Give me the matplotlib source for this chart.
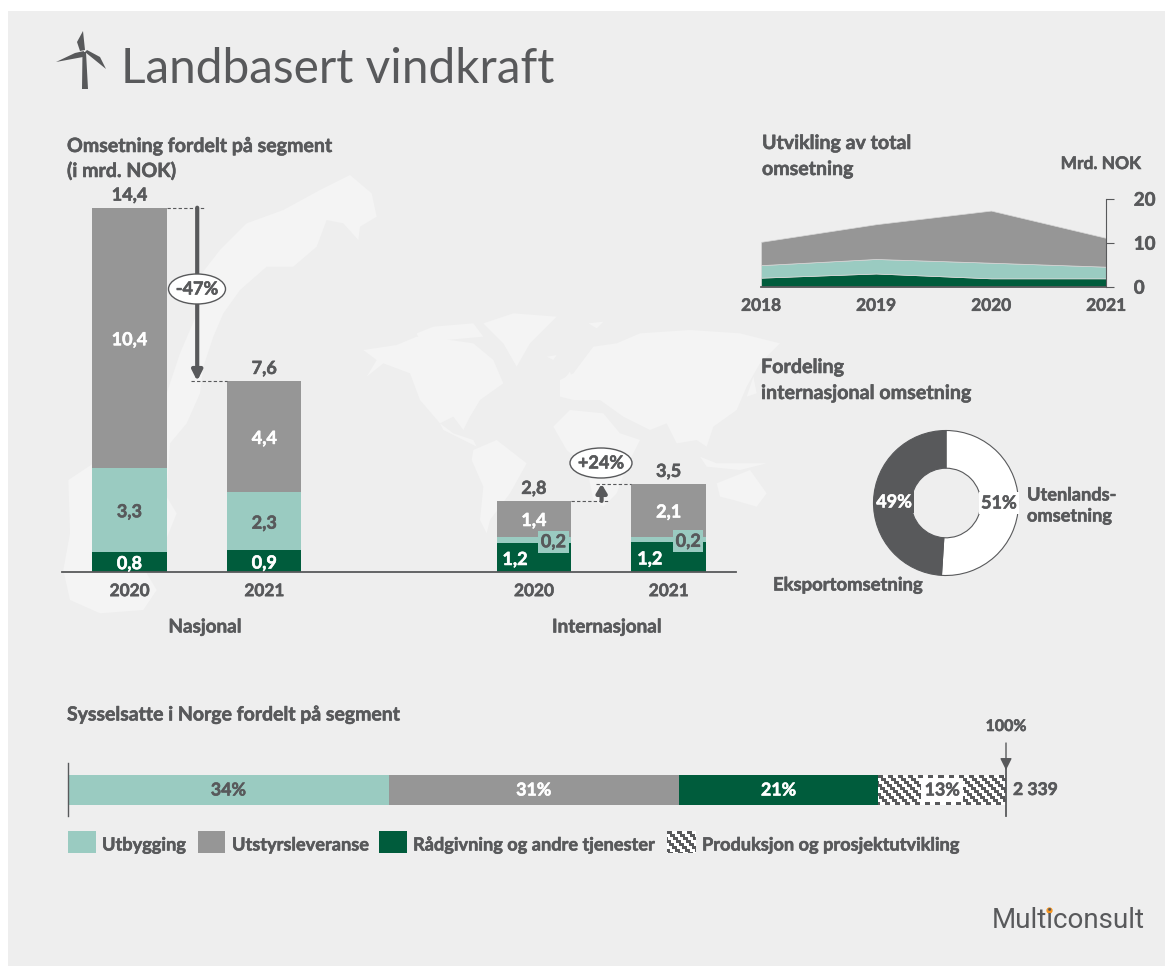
import matplotlib
matplotlib.use('Agg')
import matplotlib.pyplot as plt
import matplotlib.patheffects as pe
import numpy as np
from matplotlib.colors import ListedColormap
from matplotlib.patches import Rectangle, Ellipse, Polygon

W, H = 1165, 967
TEXT = '#58595B'
TEAL = '#9ACBC1'
GREY = '#969696'
GREEN = '#005C3C'
BG = '#EEEEEE'
LAND = '#F4F4F4'

plt.rcParams['font.family'] = ['Lato', 'DejaVu Sans']

# Stacked bars, mrd. NOK
bar_pos = [0, 1, 3, 4]
bar_years = ['2020', '2021', '2020', '2021']
bar_green = [0.8, 0.85, 1.13, 1.17]
bar_teal = [3.3, 2.3, 0.27, 0.23]
bar_grey = [10.3, 4.4, 1.41, 2.08]
green_labels = ['0,8', '0,9', '1,2', '1,2']
teal_labels = ['3,3', '2,3', '0,2', '0,2']
grey_labels = ['10,4', '4,4', '1,4', '2,1']
total_labels = ['14,4', '7,6', '2,8', '3,5']

# Area chart
area_years = [2018, 2019, 2020, 2021]
area_green = [2.05, 3.0, 1.9, 1.9]
area_teal = [2.85, 3.3, 3.55, 2.65]
area_grey = [5.3, 7.9, 11.85, 6.55]

# Donut
donut_values = [51, 49]
donut_labels = ['51%', '49%']

# Employment bar
emp_values = [34.2, 30.9, 21.3, 13.6]
emp_labels = ['34%', '31%', '21%', '13%']
emp_names = ['Utbygging', 'Utstyrsleveranse', 'Rådgivning og andre tjenester', 'Produksjon og prosjektutvikling']

# Lato bold is a bit lighter than the original font
HEAVY = [pe.Stroke(linewidth=0.4), pe.Normal()]
CHECK = ListedColormap(['white', TEXT])


def px_axes(x0, y0, x1, y1, z=1):
    ax = fig.add_axes([x0 / W, 1 - y1 / H, (x1 - x0) / W, (y1 - y0) / H], zorder=z)
    ax.patch.set_alpha(0)
    return ax


def label(x, y, s, color=TEXT, size=13.8, ha='left', weight='bold', **kw):
    t = ov.text(x, y, s, color=color, fontsize=size, ha=ha, va='center', fontweight=weight, **kw)
    if weight == 'bold':
        t.set_path_effects(HEAVY)


def bar_text(x, y, s, color=TEXT, va='center', **kw):
    # the comma drags centred text up, so nudge it back down
    if va == 'center':
        y -= 0.07
    t = ax.text(x, y, s, ha='center', va=va, color=color, fontsize=13, fontweight='bold', **kw)
    t.set_path_effects(HEAVY)


def check_pattern(w, h):
    # the brick-like fill of the last segment, one array cell per pixel
    yy, xx = np.mgrid[0:h, 0:w]
    return ((xx - 3 * (yy // 3)) % 10 < 5).astype(int)


fig = plt.figure(figsize=(W / 100, H / 100), dpi=100, facecolor='white')

# background panel and the pale maps
bg = px_axes(0, 0, W, H, z=0)
bg.set_xlim(0, W)
bg.set_ylim(H, 0)
bg.axis('off')
bg.add_patch(Rectangle((8, 11), W - 8, H - 12, fc=BG, ec='none'))

norway = [(1115, 40), (1130, 110), (1080, 140), (1075, 180), (1030, 130), (980, 120), (950, 200), (880, 260),
          (800, 260), (720, 330), (670, 400), (640, 470), (610, 560), (600, 640), (560, 730), (510, 790), (500, 950),
          (530, 1000), (490, 1100), (440, 1180), (470, 1230), (430, 1290), (300, 1300), (210, 1260), (190, 1170),
          (210, 1060), (205, 900), (280, 850), (500, 780), (500, 640), (540, 520), (600, 380), (590, 300), (660, 210),
          (740, 130), (850, 90), (960, 30), (1050, -15)]
bg.add_patch(Polygon([(x / 3, 180 + y / 3) for x, y in norway], fc=LAND, ec='none'))

world = [
    [(70, 150), (170, 135), (230, 110), (330, 120), (400, 130), (460, 180), (490, 250), (420, 300), (390, 350),
     (370, 390), (340, 350), (300, 370), (240, 300), (210, 220), (130, 190), (80, 230), (110, 180)],
    [(300, 370), (340, 400), (400, 420), (410, 440), (370, 420), (310, 390)],
    [(400, 450), (470, 420), (560, 490), (510, 580), (450, 660), (440, 700), (420, 660), (430, 560), (395, 480)],
    [(430, 70), (520, 40), (650, 50), (570, 130), (530, 200), (490, 130)],
    [(230, 100), (280, 80), (400, 70), (430, 110), (320, 120), (240, 125)],
    [(660, 240), (700, 220), (760, 140), (830, 130), (900, 100), (1050, 90), (1200, 100), (1320, 130), (1260, 190),
     (1220, 260), (1190, 330), (1120, 380), (1100, 440), (1070, 420), (1010, 430), (980, 370), (930, 390), (850, 350),
     (780, 300), (700, 300), (660, 290)],
    [(640, 380), (690, 330), (790, 340), (840, 400), (900, 420), (860, 500), (830, 580), (790, 620), (760, 600),
     (740, 500), (680, 450)],
    [(1130, 550), (1230, 510), (1280, 580), (1250, 620), (1180, 600), (1140, 590)],
    [(1080, 470), (1130, 490), (1280, 490), (1200, 510), (1100, 500)],
    [(1220, 290), (1240, 230), (1250, 280)],
    [(670, 240), (690, 215), (700, 250)],
    [(620, 170), (650, 165), (640, 180)],
    [(745, 70), (790, 65), (770, 85)],
]
for shape in world:
    bg.add_patch(Polygon([(340 + x / 3, 300 + y / 3) for x, y in shape], fc=LAND, ec='none'))

# main stacked bars
ax = px_axes(62, 207.7, 736, 572)
ax.set_xlim(-0.5, 4.5)
ax.set_ylim(0, 14.4)
bottoms = [g + t for g, t in zip(bar_green, bar_teal)]
tops = [b + g for b, g in zip(bottoms, bar_grey)]
ax.bar(bar_pos, bar_green, width=0.553, color=GREEN)
ax.bar(bar_pos, bar_teal, width=0.553, bottom=bar_green, color=TEAL)
ax.bar(bar_pos, bar_grey, width=0.553, bottom=bottoms, color=GREY)
for s in ['top', 'left', 'right']:
    ax.spines[s].set_visible(False)
ax.spines['bottom'].set_color(TEXT)
ax.spines['bottom'].set_linewidth(1.3)
ax.set_yticks([])
ax.set_xticks(bar_pos, bar_years, fontsize=12.4, fontweight='bold', color=TEXT)
ax.tick_params(axis='x', length=0, pad=8)

for i, x in enumerate(bar_pos):
    bar_text(x, tops[i] + 0.16, total_labels[i], va='bottom')
    bar_text(x, bottoms[i] + bar_grey[i] / 2, grey_labels[i], color='white')
    if x < 2:
        bar_text(x, bar_green[i] + bar_teal[i] / 2, teal_labels[i])
        bar_text(x, bar_green[i] / 2, green_labels[i], color='white')
    else:
        bar_text(x + 0.145, bar_green[i] + bar_teal[i] / 2, teal_labels[i],
                 bbox=dict(fc=TEAL, ec='none', boxstyle='square,pad=0.15'))
        bar_text(x - 0.14, bar_green[i] / 2, green_labels[i], color='white')

# change arrows between the bars
dash = dict(color=TEXT, lw=0.8, ls=(0, (3, 2)))
ax.plot([0.277, 0.55], [tops[0], tops[0]], **dash, clip_on=False)
ax.plot([0.46, 0.723], [tops[1], tops[1]], **dash)
ax.annotate('', xy=(0.503, tops[1]), xytext=(0.503, tops[0]),
            arrowprops=dict(arrowstyle='-|>,head_width=0.3,head_length=0.6', color=TEXT, lw=3, shrinkA=0, shrinkB=0))
ax.plot([3.277, 3.55], [tops[2], tops[2]], **dash)
ax.plot([3.46, 3.723], [tops[3], tops[3]], **dash)
ax.annotate('', xy=(3.503, tops[3]), xytext=(3.503, tops[2]),
            arrowprops=dict(arrowstyle='-|>,head_width=0.3,head_length=0.5', color=TEXT, lw=3, shrinkA=0, shrinkB=0))

# area chart
ax2 = px_axes(761, 198.7, 1106, 286.7)
ax2.stackplot(area_years, area_green, area_teal, area_grey, colors=[GREEN, TEAL, GREY], edgecolor='#D8D8D8', lw=0.5)
ax2.set_xlim(2018, 2021)
ax2.set_ylim(0, 20)
ax2.spines['top'].set_visible(False)
ax2.spines['left'].set_visible(False)
ax2.spines['right'].set_color(TEXT)
ax2.spines['bottom'].set_color(TEXT)
ax2.spines['bottom'].set_linewidth(1.3)
ax2.yaxis.tick_right()
ax2.set_yticks([0, 10, 20], ['0', '10', '20'], fontsize=13.5, fontweight='bold', color=TEXT)
ax2.tick_params(axis='y', length=6, color=TEXT, pad=14)
ax2.set_xticks(area_years, [str(y) for y in area_years], fontsize=12.4, fontweight='bold', color=TEXT)
ax2.tick_params(axis='x', length=0, pad=8)
for t in ax.get_xticklabels() + ax2.get_xticklabels() + ax2.get_yticklabels():
    t.set_path_effects(HEAVY)

# donut
ax3 = px_axes(946 - 72.5, 503 - 72.5, 946 + 72.5, 503 + 72.5)
ax3.pie(donut_values, colors=['white', TEXT], startangle=90, counterclock=False, radius=1,
        wedgeprops=dict(width=0.52, edgecolor=TEXT, linewidth=0.8))
ax3.set_xlim(-1, 1)
ax3.set_ylim(-1, 1)

# employment bar
ax4 = px_axes(68, 775, 1006, 805)
left = 0
emp_colors = [TEAL, GREY, GREEN, 'white']
emp_text = [TEXT, 'white', 'white', TEXT]
for i, v in enumerate(emp_values):
    if i == 3:
        ax4.imshow(check_pattern(127, 30), extent=(left, left + v, -0.5, 0.5), aspect='auto', cmap=CHECK,
                   interpolation='nearest', origin='upper')
    else:
        ax4.barh(0, v, left=left, height=1, color=emp_colors[i])
    box = dict(fc='white', ec='none', boxstyle='square,pad=0.2') if i == 3 else None
    t = ax4.text(left + v / 2, 0, emp_labels[i], ha='center', va='center', color=emp_text[i], fontsize=12.8,
                 fontweight='bold', bbox=box)
    t.set_path_effects(HEAVY)
    left += v
ax4.set_xlim(0, 100)
ax4.set_ylim(-0.5, 0.5)
ax4.axis('off')

# overlay: titles, notes, legend, logo
ov = px_axes(0, 0, W, H, z=3)
ov.axis('off')

label(121, 69, 'Landbasert vindkraft', size=34.4, weight='normal')
label(67, 146, 'Omsetning fordelt på segment', size=14.1)
label(67, 171, '(i mrd. NOK)', size=14.1)
label(762, 143, 'Utvikling av total', size=14.1)
label(762, 169, 'omsetning', size=14.1)
label(1141, 164, 'Mrd. NOK', ha='right', size=12.5)
label(761, 367, 'Fordeling', size=14.2)
label(761, 393, 'internasjonal omsetning', size=14.2)
label(1027, 495, 'Utenlands-', size=13.1)
label(1027, 516, 'omsetning', size=13.1)
label(773, 585, 'Eksportomsetning', size=13.3)
label(67, 715, 'Sysselsatte i Norge fordelt på segment', size=14)
label(205, 627, 'Nasjonal', ha='center', size=13.6)
label(607, 627, 'Internasjonal', ha='center', size=13.6)

ov.add_patch(Ellipse((197, 289), 57, 30, fc='white', ec=TEXT, lw=1))
label(197, 289, '-47%', ha='center', size=13)
ov.add_patch(Ellipse((601, 463), 62, 30, fc='white', ec=TEXT, lw=1))
label(601, 463, '+24%', ha='center', size=13)

label(999, 503, donut_labels[0], ha='center', size=13, bbox=dict(fc='white', ec='none', boxstyle='square,pad=0.12'))
label(894, 502, donut_labels[1], color='white', ha='center', size=13,
      bbox=dict(fc=TEXT, ec='none', boxstyle='square,pad=0.12'))

# turbine icon
tower = [(82.5, 52), (86, 52), (88, 89), (82, 89)]
blades = [[(85, 50), (83, 31), (77, 42), (80, 51)],
          [(83, 57), (56, 62), (75, 53), (84, 51)],
          [(85, 52), (106, 69), (100, 57), (87, 50)]]
ov.add_patch(Polygon(tower, fc=TEXT, ec='none'))
for b in blades:
    ov.add_patch(Polygon(b, fc=TEXT, ec='none'))

# 100 % marker
ov.plot([68, 68], [763, 816], color=TEXT, lw=1)
ov.plot([1006, 1006], [760, 816], color=TEXT, lw=1.3)
ov.annotate('', xy=(1006, 770), xytext=(1006, 743),
            arrowprops=dict(arrowstyle='-|>,head_width=0.35,head_length=0.7', color=TEXT, lw=1, shrinkA=0, shrinkB=0))
label(1006, 727, '100%', ha='center', size=11.5)
label(1013, 790, '2 339', size=12.6)

# legend
leg_x = [68, 198, 379, 667]
leg_w = [28, 27, 28, 29]
leg_text_x = [102, 232, 413, 702]
leg_colors = [TEAL, GREY, GREEN, None]
for i, name in enumerate(emp_names):
    if leg_colors[i]:
        ov.add_patch(Rectangle((leg_x[i], 831), leg_w[i], 22, fc=leg_colors[i], ec='none'))
    else:
        ov.imshow(check_pattern(leg_w[i], 22), extent=(leg_x[i], leg_x[i] + leg_w[i], 853, 831), aspect='auto',
                  cmap=CHECK, interpolation='nearest', origin='upper')
    label(leg_text_x[i], 845, name, size=13.1)

label(1145, 920, 'Multiconsult', ha='right', size=20, weight='normal', family='Roboto')
ov.plot([1049], [910], 'o', color='#F7941D', ms=3.5)
ov.set_xlim(0, W)
ov.set_ylim(H, 0)

fig.savefig('out.png', dpi=100)
